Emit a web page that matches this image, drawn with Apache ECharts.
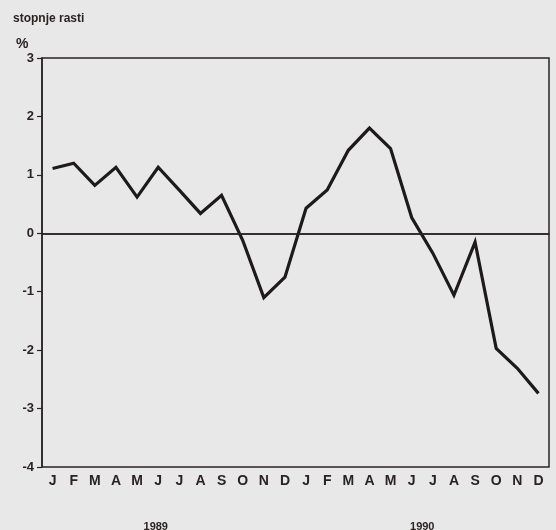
<!DOCTYPE html>
<html>
<head>
<meta charset="utf-8">
<script src="https://cdn.jsdelivr.net/npm/echarts@6/dist/echarts.min.js"></script>
<style>
  html, body { margin: 0; padding: 0; background: #e9e8e8; }
  #chart { width: 556px; height: 530px; }
</style>
</head>
<body>
<div id="chart"></div>
<script>
// mesecne stopnje rasti, 1989-1990
const months = ['J', 'F', 'M', 'A', 'M', 'J', 'J', 'A', 'S', 'O', 'N', 'D',
                'J', 'F', 'M', 'A', 'M', 'J', 'J', 'A', 'S', 'O', 'N', 'D'];
const years = ['1989', '1990'];
const rates = [1.11, 1.2, 0.82, 1.13, 0.62, 1.13, 0.74, 0.34, 0.65, -0.12, -1.1, -0.75,
               0.43, 0.74, 1.42, 1.8, 1.45, 0.27, -0.34, -1.06, -0.15, -1.97, -2.31, -2.74];
const yTicks = [-4, -3, -2, -1, 0, 1, 2, 3];

const ink = '#2b2224';
const font = 'Liberation Sans';

const chart = echarts.init(document.getElementById('chart'));
chart.setOption({
    backgroundColor: '#e9e8e8',
    animation: false,
    title: [
        { text: 'stopnje rasti', left: 8, top: 8,
          textStyle: { fontFamily: font, fontSize: 12, fontWeight: 'bold', color: ink } },
        { text: '%', left: 11, top: 32,
          textStyle: { fontFamily: font, fontSize: 14, fontWeight: 'bold', color: ink } }
    ],
    grid: {
        left: 42, right: 7, top: 58, bottom: 63,
        outerBoundsMode: 'none',
        containLabel: false,
        show: true,
        borderColor: ink,
        borderWidth: 1.5,
        backgroundColor: 'transparent'
    },
    xAxis: [{
        type: 'category',
        data: months,
        boundaryGap: true,
        axisLine: { lineStyle: { color: ink, width: 1.5 } },
        axisTick: { inside: true, length: 5, lineStyle: { color: ink, width: 1.2 } },
        axisLabel: { fontFamily: font, fontSize: 14, fontWeight: 'bold', color: ink, margin: 7 }
    }, {
        type: 'category',
        data: years,
        position: 'bottom',
        offset: 46,
        axisLine: { show: false },
        axisTick: { show: false },
        axisLabel: {
            fontFamily: font, fontSize: 11, fontWeight: 'bold', color: ink, margin: 8,
            formatter: v => v === years[0] ? '{a|' + v + '}' : v,
            rich: { a: { fontFamily: font, fontSize: 11, fontWeight: 'bold', color: ink, padding: [0, 26, 0, 0] } }
        }
    }],
    yAxis: {
        type: 'value',
        min: yTicks[0],
        max: yTicks[yTicks.length - 1],
        interval: 1,
        splitLine: { show: false },
        axisLine: { show: true, lineStyle: { color: ink, width: 1.5 } },
        axisTick: { show: true, length: 5, lineStyle: { color: ink, width: 1.2 } },
        axisLabel: {
            fontFamily: font, fontSize: 13, fontWeight: 'bold', color: ink, margin: 8,
            formatter: v => String(v)
        }
    },
    series: [{
        type: 'line',
        data: rates,
        xAxisIndex: 0,
        symbol: 'none',
        lineStyle: { color: '#1c1a1b', width: 3.2, join: 'miter' },
        markLine: {
            silent: true,
            symbol: 'none',
            label: { show: false },
            lineStyle: { color: ink, width: 1.5, type: 'solid' },
            data: [{ yAxis: 0 }]
        }
    }]
});
</script>
</body>
</html>
